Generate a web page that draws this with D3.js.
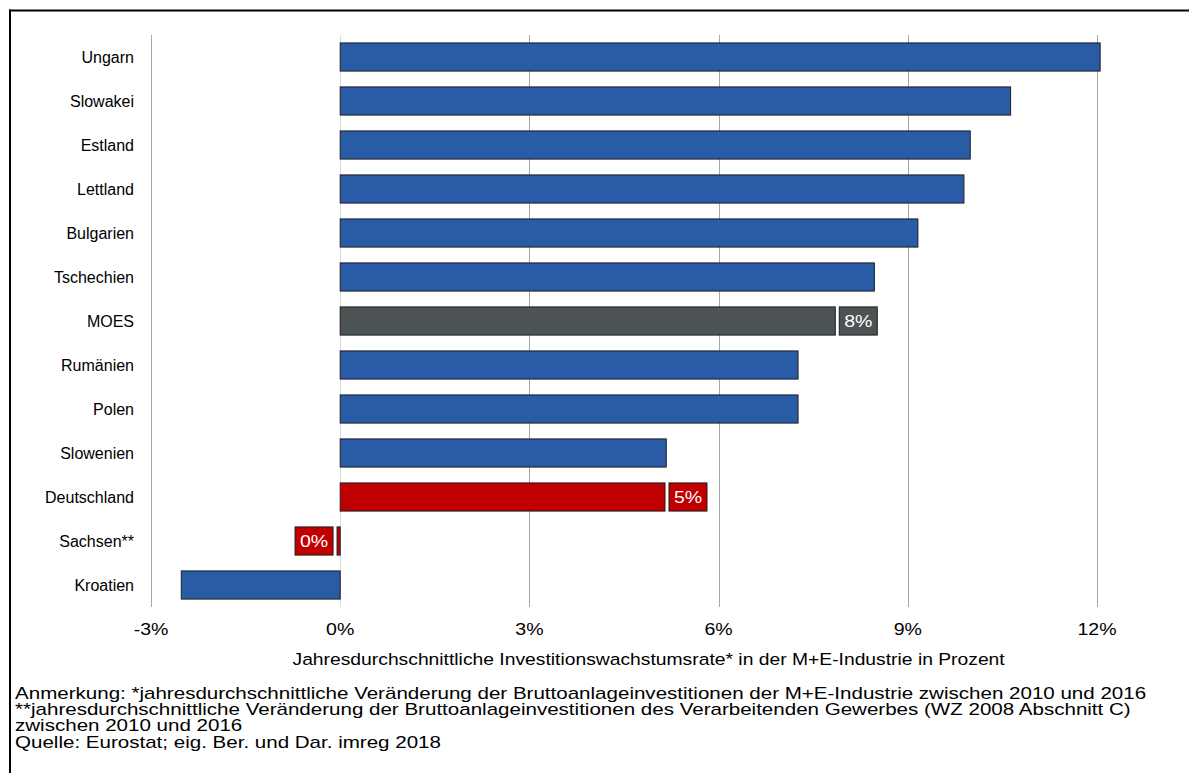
<!DOCTYPE html>
<html>
<head>
<meta charset="utf-8">
<script src="https://cdn.jsdelivr.net/npm/d3@7/dist/d3.min.js"></script>
<style>
  html, body { margin: 0; padding: 0; background: #fff; }
  svg { display: block; font-family: "Liberation Sans", Arial, sans-serif; }
</style>
</head>
<body>
<svg id="chart" width="1189" height="773"></svg>
<script>
// Länder / Regionen, von oben nach unten
const categories = ["Ungarn", "Slowakei", "Estland", "Lettland", "Bulgarien", "Tschechien",
  "MOES", "Rumänien", "Polen", "Slowenien", "Deutschland", "Sachsen**", "Kroatien"];
// Jahresdurchschnittliche Investitionswachstumsrate in %
const values = [12.05, 10.63, 9.99, 9.89, 9.16, 8.47, 7.85, 7.26, 7.26, 5.17, 5.15, -0.05, -2.52];
// Hervorgehobene Balken: Kategorie -> Farbgruppe
const highlight = { "MOES": "avg", "Deutschland": "de", "Sachsen**": "de" };
// Balken mit Wertbeschriftung
const labelled = ["MOES", "Deutschland", "Sachsen**"];
const tickValues = [-3, 0, 3, 6, 9, 12];
const tickLabels = ["-3%", "0%", "3%", "6%", "9%", "12%"];
const axisTitle = "Jahresdurchschnittliche Investitionswachstumsrate* in der M+E-Industrie in Prozent";
const notes = [
  "Anmerkung: *jahresdurchschnittliche Veränderung der Bruttoanlageinvestitionen der M+E-Industrie zwischen 2010 und 2016",
  "**jahresdurchschnittliche Veränderung der Bruttoanlageinvestitionen des Verarbeitenden Gewerbes (WZ 2008 Abschnitt C)",
  "zwischen 2010 und 2016",
  "Quelle: Eurostat; eig. Ber. und Dar. imreg 2018"
];

const colors = { base: "#2a5ba6", avg: "#4b5354", de: "#c00000" };
const data = categories.map((c, i) => ({ cat: c, v: values[i] }));

const svg = d3.select("#chart");

// Text mit horizontaler Streckung um den Ankerpunkt
function label(parent, x, y, str, opts = {}) {
  const g = parent.append("g").attr("transform", `translate(${x},${y}) scale(${opts.sx || 1},1)`);
  return g.append("text")
    .attr("text-anchor", opts.anchor || "start")
    .attr("dy", opts.dy || "0")
    .attr("font-size", (opts.fs || 16) + "px")
    .attr("fill", opts.fill || "#000")
    .text(str);
}

// Rahmen (oben und links)
svg.append("line").attr("x1", 9).attr("x2", 1189).attr("y1", 10.5).attr("y2", 10.5)
  .attr("stroke", "#000").attr("stroke-width", 2);
svg.append("line").attr("x1", 10).attr("x2", 10).attr("y1", 9.5).attr("y2", 773)
  .attr("stroke", "#000").attr("stroke-width", 2);

const x = d3.scaleLinear().domain([-3, 12]).range([151, 1097]);
const y = d3.scaleBand().domain(categories).range([35, 607]).paddingInner(0.36).paddingOuter(0.18);

// Gitterlinien
const grid = svg.append("g");
tickValues.forEach(t => {
  grid.append("line")
    .attr("x1", Math.round(x(t)) + 0.5).attr("x2", Math.round(x(t)) + 0.5)
    .attr("y1", 35).attr("y2", 607)
    .attr("stroke", t === 0 ? "#dcdcdc" : "#a6a6a6").attr("stroke-width", 1);
});

// Achsenbeschriftung unten
const axisG = svg.append("g");
tickValues.forEach((t, i) => label(axisG, x(t), 635, tickLabels[i], { anchor: "middle", fs: 17, sx: 1.15 }));
label(svg, x(4.89), 665, axisTitle, { anchor: "middle", fs: 16.5, sx: 1.17 });

// Kategorienbeschriftungen
const catG = svg.append("g");
data.forEach(d => label(catG, 134, y(d.cat) + y.bandwidth() / 2, d.cat,
  { anchor: "end", dy: "0.35em", fs: 16, sx: 1.0 }));

// Balken
svg.append("g").selectAll("rect").data(data).join("rect")
  .attr("x", d => x(Math.min(0, d.v)))
  .attr("y", d => y(d.cat))
  .attr("width", d => Math.max(1.5, Math.abs(x(d.v) - x(0))))
  .attr("height", y.bandwidth())
  .attr("fill", d => colors[highlight[d.cat] || "base"])
  .attr("stroke", "#1e1e1e").attr("stroke-width", 1);

// Wertbeschriftungen in Kästchen
const boxW = 38, gap = 4;
data.filter(d => labelled.includes(d.cat)).forEach(d => {
  const bx = d.v >= 0 ? x(d.v) + gap : x(d.v) - gap - boxW;
  const g = svg.append("g").attr("transform", `translate(${bx},${y(d.cat)})`);
  g.append("rect").attr("width", boxW).attr("height", y.bandwidth())
    .attr("fill", colors[highlight[d.cat]]).attr("stroke", "#1e1e1e").attr("stroke-width", 1);
  label(g, boxW / 2, y.bandwidth() / 2, `${Math.abs(Math.round(d.v))}%`,
    { anchor: "middle", dy: "0.36em", fill: "#fff", fs: 17, sx: 1.15 });
});

// Anmerkungen und Quelle
const noteG = svg.append("g");
notes.forEach((s, i) => label(noteG, 15, 699 + i * 16.2, s, { fs: 16, sx: 1.285 }));
</script>
</body>
</html>
